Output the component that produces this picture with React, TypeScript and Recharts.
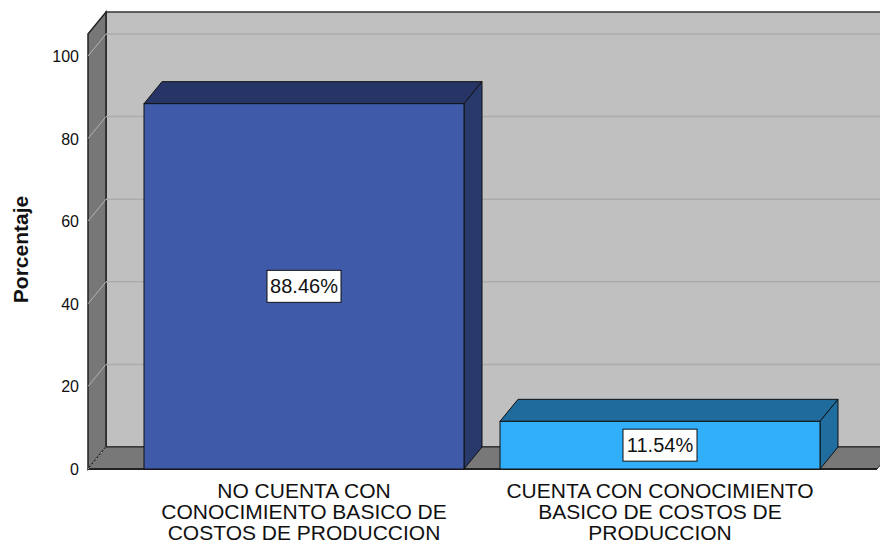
import React from 'react';
import { BarChart, Bar, XAxis, YAxis, CartesianGrid, ReferenceArea, LabelList, Cell } from 'recharts';

// datos del gráfico
const categories = [
  'NO CUENTA CON CONOCIMIENTO BASICO DE COSTOS DE PRODUCCION',
  'CUENTA CON CONOCIMIENTO BASICO DE COSTOS DE PRODUCCION',
];
const categoryLines = [
  ['NO CUENTA CON', 'CONOCIMIENTO BASICO DE', 'COSTOS DE PRODUCCION'],
  ['CUENTA CON CONOCIMIENTO', 'BASICO DE COSTOS DE', 'PRODUCCION'],
];
const percentages = [88.46, 11.54];
const yTicks = [0, 20, 40, 60, 80, 100];

const frontColors = ['#3F5AA8', '#31AFFB'];
const topColors = ['#263566', '#1F6B9C'];
const sideColors = ['#28396C', '#1F6E9F'];

const data = categories.map((name, i) => ({ name, value: percentages[i] }));

// profundidad 3D y márgenes del eje X
const DX = 18;
const DY = 22;
const TOP_EXTRA = 22;
const PAD_L = 38;
const PAD_R = 39;
const FONT = '"Liberation Sans", Arial, sans-serif';

const Walls = (props: any) => {
  const { y, height } = props;
  // la ReferenceArea no incluye el padding del eje, se lo devolvemos
  const x = props.x - PAD_L;
  const width = props.width + PAD_L + PAD_R;
  const bottom = y + height;
  const right = x + width;
  return (
    <g>
      {/* pared del fondo */}
      <rect x={x + DX} y={y - TOP_EXTRA - DY} width={width + 40} height={height + TOP_EXTRA} fill="#C0C0C0" stroke="#333" strokeWidth={1.5} />
      {/* pared izquierda */}
      <polygon
        points={`${x},${y - TOP_EXTRA} ${x + DX},${y - TOP_EXTRA - DY} ${x + DX},${bottom - DY} ${x},${bottom}`}
        fill="#777777"
        stroke="#222"
        strokeWidth={1.5}
      />
      {/* piso */}
      <polygon
        points={`${x},${bottom} ${x + DX},${bottom - DY} ${right + DX},${bottom - DY} ${right},${bottom}`}
        fill="#787878"
        stroke="#222"
        strokeWidth={1}
      />
      <line x1={x} y1={bottom} x2={right} y2={bottom} stroke="#222" strokeWidth={2} />
    </g>
  );
};

const GridLine = (props: any) => {
  const { x1, y1, x2 } = props;
  return (
    <g>
      <line x1={x1} y1={y1} x2={x1 + DX} y2={y1 - DY} stroke="#B4B4B4" strokeWidth={1} strokeDasharray={y1 > 460 ? '2 2' : undefined} />
      {y1 < 460 && <line x1={x1 + DX} y1={y1 - DY} x2={x2 + DX + 20} y2={y1 - DY} stroke="#ABABAB" strokeWidth={1.5} />}
    </g>
  );
};

const Box3D = (props: any) => {
  const { x, y, width, height, index } = props;
  const i = index ?? 0;
  const r = x + width;
  const b = y + height;
  return (
    <g>
      <polygon points={`${x},${y} ${x + DX},${y - DY} ${r + DX},${y - DY} ${r},${y}`} fill={topColors[i]} stroke="#111" strokeWidth={1} />
      <polygon points={`${r},${y} ${r + DX},${y - DY} ${r + DX},${b - DY} ${r},${b}`} fill={sideColors[i]} stroke="#111" strokeWidth={1} />
      <rect x={x} y={y} width={width} height={height} fill={frontColors[i]} stroke="#111" strokeWidth={1} />
    </g>
  );
};

const ValueLabel = (props: any) => {
  const { x, y, width, height, value } = props;
  const cx = x + width / 2;
  const cy = y + height / 2;
  const txt = `${Number(value).toFixed(2)}%`;
  return (
    <g>
      <rect x={cx - 37} y={cy - 16} width={74} height={32} fill="#fff" stroke="#111" strokeWidth={1} />
      <text x={cx} y={cy + 7} textAnchor="middle" fontFamily={FONT} fontSize={20} fill="#111">
        {txt}
      </text>
    </g>
  );
};

const CategoryTick = (props: any) => {
  const { x, y, index } = props;
  const lines = categoryLines[index] || [];
  return (
    <text x={x} y={y} textAnchor="middle" fontFamily={FONT} fontSize={21} fill="#111">
      {lines.map((l, k) => (
        <tspan key={k} x={x} dy={k === 0 ? 29 : 21}>{l}</tspan>
      ))}
    </text>
  );
};

const ValueTick = (props: any) => {
  const { x, y, payload } = props;
  return (
    <text x={x} y={y + 6} textAnchor="end" fontFamily={FONT} fontSize={16} fill="#111">
      {payload.value}
    </text>
  );
};

const AxisTitle = (props: any) => {
  const vb = props.viewBox || { x: 0, y: 56, width: 88, height: 413 };
  const cx = 28;
  const cy = vb.y + vb.height / 2 - 13;
  return (
    <text x={cx} y={cy} transform={`rotate(-90 ${cx} ${cy})`} textAnchor="middle" fontFamily={FONT} fontSize={21} fontWeight="bold" fill="#111">
      Porcentaje
    </text>
  );
};

export default function App() {
  return (
    <div style={{ position: 'absolute', left: 0, top: 0, background: '#fff' }}>
      <BarChart width={880} height={544} data={data} margin={{ top: 56, right: 3, bottom: 0, left: 0 }} barCategoryGap={18}>
        <ReferenceArea y1={0} y2={100} shape={<Walls />} zIndex={-200} ifOverflow="visible" />
        <CartesianGrid vertical={false} horizontal={<GridLine />} />
        <XAxis
          dataKey="name"
          height={75}
          axisLine={false}
          tickLine={false}
          tickSize={0}
          tickMargin={0}
          padding={{ left: PAD_L, right: PAD_R }}
          tick={<CategoryTick />}
          interval={0}
        />
        <YAxis
          width={88}
          domain={[0, 100]}
          ticks={yTicks}
          axisLine={false}
          tickLine={false}
          tickSize={0}
          tickMargin={9}
          tick={<ValueTick />}
          label={<AxisTitle />}
        />
        <Bar dataKey="value" shape={<Box3D />} isAnimationActive={false}>
          {data.map((d, i) => (
            <Cell key={d.name} fill={frontColors[i]} />
          ))}
          <LabelList dataKey="value" content={<ValueLabel />} />
        </Bar>
      </BarChart>
    </div>
  );
}
